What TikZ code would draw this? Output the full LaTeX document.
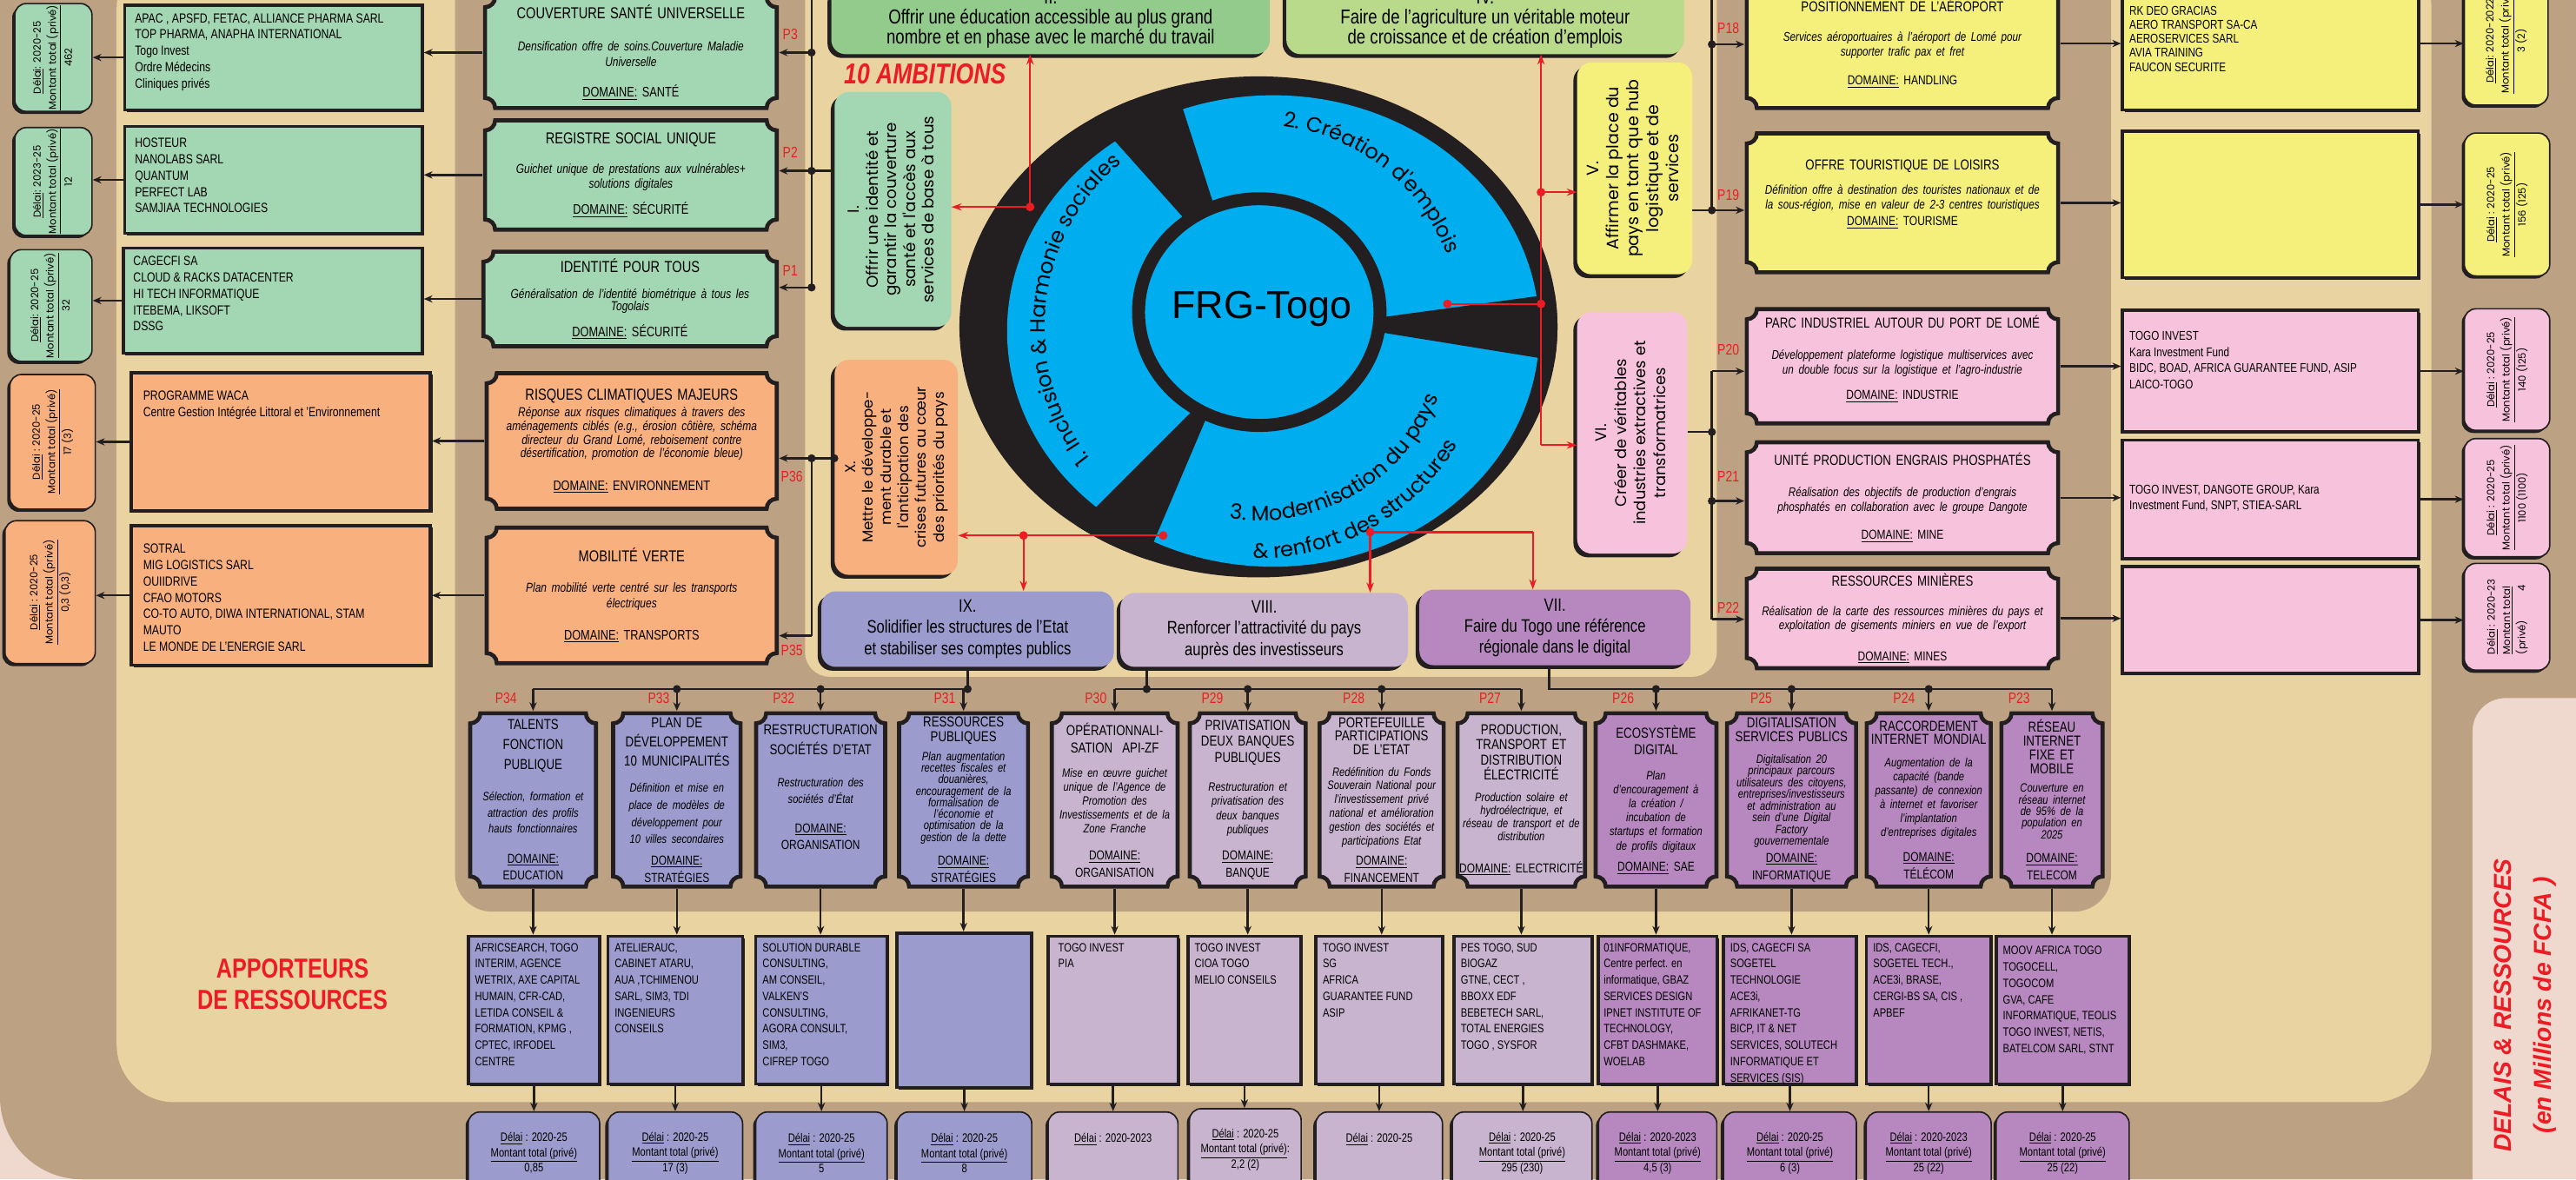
\documentclass[tikz,border=0pt]{standalone}
\usepackage{fontspec}
\usepackage{graphicx}
\setmainfont{Liberation Sans}[FakeStretch=0.8]
\newfontfamily\plainsans{Liberation Sans}
\newfontfamily\geofont{Poppins}
\usepackage{xcolor}
\usepackage{tikz}
\usetikzlibrary{
  arrows.meta,
  positioning,
  shadows,
  calc,
  decorations.text
}
\definecolor{tanbg}{HTML}{BCA283}
\definecolor{blush}{HTML}{EFD8CE}
\definecolor{sand}{HTML}{E9D3A1}
\definecolor{mint}{HTML}{A3D6B3}
\definecolor{leaf}{HTML}{92CB8B}
\definecolor{lime}{HTML}{B9DA8B}
\definecolor{peach}{HTML}{F9B07F}
\definecolor{lemon}{HTML}{F5F07C}
\definecolor{rose}{HTML}{F7C2DB}
\definecolor{periw}{HTML}{9C9BCD}
\definecolor{lilac}{HTML}{C9B4D0}
\definecolor{orchid}{HTML}{B688BF}
\definecolor{ringblue}{HTML}{00AEEF}
\definecolor{alertred}{HTML}{ED1C24}
\definecolor{inkline}{HTML}{231F20}
\tikzset{
  ticket/.style={
    path picture={
      \coordinate (tsw) at ([shift={(1.4pt,1.4pt)}]path picture bounding box.south west);
      \coordinate (tne) at ([shift={(-1.4pt,-1.4pt)}]path picture bounding box.north east);
      \coordinate (tse) at (tsw -| tne);
      \coordinate (tnw) at (tne -| tsw);
      \filldraw[fill=#1, draw=inkline, line width=2.8pt]
        ([xshift=7pt]tsw) -- ([xshift=-7pt]tse) arc[start angle=180, end angle=90, radius=7pt]
        -- ([yshift=-7pt]tne) arc[start angle=270, end angle=180, radius=7pt]
        -- ([xshift=7pt]tnw) arc[start angle=0, end angle=-90, radius=7pt]
        -- ([yshift=7pt]tsw) arc[start angle=90, end angle=0, radius=7pt] -- cycle;
    }
  },
  projbox/.style={rectangle, ticket=#1, inner sep=1.5pt, align=center},
  resbox/.style={
    rectangle, fill=#1, draw=inkline, line width=2.2pt,
    drop shadow={shadow xshift=1.4pt, shadow yshift=-1.4pt, opacity=1, fill=inkline}
  },
  restext/.style={anchor=north west, align=left, inner sep=0pt,
    font=\fontsize{9.2}{11.3}\selectfont},
  bottext/.style={restext, font=\fontsize{8.4}{11.3}\selectfont},
  delaybox/.style={
    rectangle, rounded corners=8pt, fill=#1, draw=inkline, line width=1pt,
    drop shadow={shadow xshift=-1.8pt, shadow yshift=-1.8pt, opacity=1, fill=inkline},
    align=center, inner sep=1pt
  },
  ambbox/.style={
    rectangle, rounded corners=10pt, fill=#1,
    drop shadow={shadow xshift=-2.6pt, shadow yshift=-2.6pt, opacity=1, fill=inkline},
    align=center, inner sep=2pt
  },
  arrowstyle/.style={-{Stealth[length=6pt,width=5pt]}, line width=1.5pt, color=inkline},
  busline/.style={line width=1.5pt, color=inkline},
  redline/.style={line width=1.3pt, color=alertred},
  redarrow/.style={redline, -{Stealth[length=7pt,width=5pt]}},
  tag/.style={font=\fontsize{10.5}{10.5}\selectfont, text=alertred, inner sep=0pt},
}
\newcommand{\bx}[7]{%
  \node[#2, minimum width={(#5-#3)*0.4mm}, minimum height={(#6-#4)*0.4mm}]
    (#1) at ({(#3+#5)/2},{-(#4+#6)/2}) {#7};}
\newcommand{\ttlf}{\upshape\fontsize{11}{12.5}\selectfont}
\newcommand{\descf}{\itshape\fontsize{9}{10.4}\selectfont}
\newcommand{\domf}{\upshape\fontsize{9.6}{11}\selectfont}
\newcommand{\ttlr}{\upshape\fontsize{10}{11}\selectfont}
\newcommand{\descr}{\itshape\fontsize{8.8}{10}\selectfont}
\newcommand{\domr}{\upshape\fontsize{9}{10}\selectfont}
\newcommand{\btl}[1]{\upshape\fontsize{10}{#1}\selectfont}
\newcommand{\bds}[1]{\itshape\fontsize{8.4}{#1}\selectfont}
\newcommand{\bdm}[1]{\upshape\fontsize{9}{#1}\selectfont}
\newcommand{\dom}[1]{\underline{DOMAINE:} #1}
\newcommand{\ringf}{\geofont\fontsize{14.5}{14.5}\selectfont}
\newcommand{\vdelay}[2]{\rotatebox{90}{\geofont\fontsize{7}{10.5}\selectfont
  \begin{tabular}{@{}c@{}}\underline{Délai}#1\\ \underline{Montant total (privé)}\\ #2\end{tabular}}}
\newcommand{\hdelay}[2]{\underline{Délai} : #1\\ \underline{Montant total (privé)}\\ #2}
\newcommand{\vamb}[2]{\rotatebox{90}{\geofont#1\selectfont
  \begin{tabular}{@{}c@{}}#2\end{tabular}}}

\begin{document}
\begin{tikzpicture}[x=0.4mm, y=0.4mm]
  \useasboundingbox (0,0) rectangle (1568,-718);
  % fonds
  \fill[blush] (0,0) rectangle (1568,-718);
  \fill[tanbg] (0,30) -- (1578,30) -- (1578,-425) -- (1525,-425)
    arc[start angle=90, end angle=180, radius=20] -- (1505,-718) -- (50,-718)
    arc[start angle=270, end angle=180, radius=50] -- cycle;
  \fill[sand, rounded corners=14mm] (71,30) rectangle (1480,-671);
  \fill[tanbg, rounded corners=9mm] (277,30) rectangle (1285,-555);
  \fill[sand, rounded corners=6mm] (490,30) rectangle (1045,-412);

  % roue FRG-Togo
  \coordinate (wc) at (766,-199);
  \fill[inkline] (wc) ellipse [x radius=182, y radius=152.5];
  \fill[ringblue] (775,-201.5) ellipse [x radius=162, y radius=143.5];
  \begin{scope}
    \clip (wc) ellipse [x radius=182, y radius=152.5];
    \fill[inkline] (660,-65) -- (717,-57) -- (746,-147) -- (735,-149) -- cycle;
    \fill[inkline] (820,-196) -- (960,-177) -- (962,-222) -- (820,-199) -- cycle;
    \fill[inkline] (735,-241) -- (740,-241) -- (692,-354) -- (655,-321) -- cycle;
  \end{scope}
  \filldraw[fill=ringblue, draw=inkline, line width=9pt] (766.5,-190) ellipse [x radius=73.5, y radius=69];
  \path[decorate, decoration={text along path, text align=center,
      text={|\ringf|1. Inclusion {\&} Harmonie sociales}}]
    (wc) ++(239:130) arc[start angle=239, end angle=109, radius=130];
  \path[decorate, decoration={text along path, text align=center,
      text={|\ringf|2. Création d'emplois}}]
    (wc) ++(110:123) arc[start angle=110, end angle=-6, radius=123];
  \path[decorate, decoration={text along path, text align=center,
      text={|\ringf|3. Modernisation du pays}}]
    (wc) ++(240:118) arc[start angle=240, end angle=360, radius=118];
  \path[decorate, decoration={text along path, text align=center,
      text={|\ringf|{\&} renfort des structures}}]
    (wc) ++(239:141) arc[start angle=239, end angle=359, radius=141];
  \node[font=\plainsans\fontsize{27}{27}\selectfont, inner sep=0pt] (hub) at (768,-188) {FRG-Togo};

  % ambitions
  \node[font=\bfseries\itshape\fontsize{20}{20}\selectfont, text=alertred, inner sep=0pt]
    (amb10) at (563,-45) {10 AMBITIONS};
  \bx{bII}{ambbox=leaf, font=\fontsize{14}{14}\selectfont}{506}{-10}{773}{33}
    {II.\\ Offrir une éducation accessible au plus grand\\ nombre et en phase avec le marché du travail}
  \bx{bIV}{ambbox=lime, font=\fontsize{14}{14}\selectfont}{783}{-10}{1025}{33}
    {IV.\\ Faire de l'agriculture un véritable moteur\\ de croissance et de création d'emplois}
  \bx{bI}{ambbox=mint}{508}{56}{579}{199}
    {\vamb{\fontsize{11}{13}}{I.\\ Offrir une identité et\\ garantir la couverture\\ santé et l'accès aux\\ services de base à tous}}
  \bx{bV}{ambbox=lemon}{960}{38}{1030}{167}
    {\vamb{\fontsize{11.5}{13.8}}{V.\\ Affirmer la place du\\ pays en tant que hub\\ logistique et de\\ services}}
  \bx{bVI}{ambbox=rose}{960}{190}{1027}{337}
    {\vamb{\fontsize{10.8}{13.5}}{VI.\\ Créer de véritables\\ industries extractives et\\ transformatrices}}
  \bx{bX}{ambbox=peach}{508}{219}{583}{350}
    {\vamb{\fontsize{10}{12.3}}{X.\\ Mettre le développe-\\ ment durable et\\ l'anticipation des\\ crises futures au cœur\\ des priorités du pays}}
  \bx{bIX}{ambbox=periw, font=\fontsize{12.5}{14.5}\selectfont}{500}{360}{678}{406}
    {IX.\\ Solidifier les structures de l'Etat\\ et stabiliser ses comptes publics}
  \bx{bVIII}{ambbox=lilac, font=\fontsize{12.5}{14.5}\selectfont}{682}{361}{857}{406}
    {VIII.\\ Renforcer l'attractivité du pays\\ auprès des investisseurs}
  \bx{bVII}{ambbox=orchid, font=\fontsize{12.5}{14.5}\selectfont}{864}{359}{1029}{405}
    {VII.\\ Faire du Togo une référence\\ régionale dans le digital}

  % colonne gauche
  \bx{p3}{projbox=mint, text width=68mm}{294}{-3}{474}{67}
    {\ttlf COUVERTURE SANTÉ UNIVERSELLE\\[12pt]\descf Densification offre de soins.Couverture Maladie\\ Universelle\\[9.5pt]\domf\dom{SANTÉ}}
  \bx{p2}{projbox=mint, text width=68mm}{294}{72}{474}{141}
    {\ttlf REGISTRE SOCIAL UNIQUE\\[10.4pt]\descf Guichet unique de prestations aux vulnérables+\\ solutions digitales\\[6pt]\domf\dom{SÉCURITÉ}}
  \bx{p1}{projbox=mint, text width=68mm}{293}{152}{474}{212}
    {\ttlf IDENTITÉ POUR TOUS\\[7.8pt]\descf Généralisation de l'identité biométrique à tous les\\[-2pt] Togolais\\[6pt]\domf\dom{SÉCURITÉ}}
  \bx{p36}{projbox=peach, text width=68mm}{295}{226}{474}{311}
    {\ttlf RISQUES CLIMATIQUES MAJEURS\\[1.6pt]\descf Réponse aux risques climatiques à travers des\\[-1pt] aménagements ciblés (e.g., érosion côtière, schéma\\[-1pt] directeur du Grand Lomé,  reboisement contre\\[-1pt] désertification, promotion de l'économie bleue)\\[10.6pt]\domf\dom{ENVIRONNEMENT}}
  \bx{p35}{projbox=peach, text width=68mm}{295}{320}{474}{405}
    {\ttlf MOBILITÉ VERTE\\[10.8pt]\descf Plan mobilité verte centré sur les transports\\ électriques\\[10.2pt]\domf\dom{TRANSPORTS}}

  \bx{rl3}{resbox=mint}{76}{3}{257}{67}{}
  \bx{rl2}{resbox=mint}{76}{77}{257}{142}{}
  \bx{rl1}{resbox=mint}{75}{151}{257}{215}{}
  \bx{rl36}{resbox=peach}{80}{227}{262}{311}{}
  \bx{rl35}{resbox=peach}{80}{320}{262}{405}{}
  \node[restext] (rl3t) at (82,-8) {APAC , APSFD, FETAC, ALLIANCE PHARMA SARL\\ TOP PHARMA, ANAPHA INTERNATIONAL\\ Togo Invest\\ Ordre Médecins\\ Cliniques privés};
  \node[restext] (rl2t) at (82,-84) {HOSTEUR\\ NANOLABS SARL\\ QUANTUM\\ PERFECT LAB\\ SAMJIAA TECHNOLOGIES};
  \node[restext] (rl1t) at (81,-156) {CAGECFI SA\\ CLOUD \& RACKS DATACENTER\\ HI TECH INFORMATIQUE\\ ITEBEMA, LIKSOFT\\ DSSG};
  \node[restext] (rl36t) at (87,-238) {PROGRAMME WACA\\ Centre Gestion Intégrée Littoral et 'Environnement};
  \node[restext] (rl35t) at (87,-331) {SOTRAL\\ MIG LOGISTICS SARL\\ OUIIDRIVE\\ CFAO MOTORS\\ CO-TO AUTO, DIWA INTERNATIONAL, STAM\\ MAUTO\\ LE MONDE DE L'ENERGIE SARL};

  \bx{dl3}{delaybox=mint}{9}{3}{56}{67}{\vdelay{: 2020-25}{462}}
  \bx{dl2}{delaybox=mint}{9}{79}{56}{142}{\vdelay{: 2023-25}{12}}
  \bx{dl1}{delaybox=mint}{6}{152}{56}{220}{\vdelay{: 2020-25}{32}}
  \bx{dl36}{delaybox=peach}{6}{228}{58}{310}{\vdelay{~: 2020-25}{17 (3)}}
  \bx{dl35}{delaybox=peach}{3}{317}{58}{404}{\vdelay{~: 2020-25}{0,3 (0,3)}}

  % colonne droite
  \bx{p18}{projbox=lemon, text width=73mm}{1062}{-14}{1254}{67}
    {\ttlr POSITIONNEMENT DE L'AÉROPORT\\[10.5pt]\descr Services aéroportuaires à l'aéroport de Lomé pour\\ supporter trafic pax et fret\\[8pt]\domr\dom{HANDLING}}
  \bx{p19}{projbox=lemon, text width=73mm}{1062}{80}{1254}{167}
    {\ttlr OFFRE TOURISTIQUE DE LOISIRS\\[7pt]\descr Définition offre à destination des touristes nationaux et de\\ la sous-région, mise en valeur de 2-3 centres touristiques\\[2pt]\domr\dom{TOURISME}\\[0pt]\rule{0pt}{11pt}}
  \bx{p20}{projbox=rose, text width=73mm}{1062}{187}{1254}{259}
    {\ttlr PARC INDUSTRIEL AUTOUR DU PORT DE LOMÉ\\[11.6pt]\descr Développement plateforme logistique multiservices avec\\ un double focus sur la logistique et l'agro-industrie\\[8pt]\domr\dom{INDUSTRIE}\\[0pt]\rule{0pt}{8pt}}
  \bx{p21}{projbox=rose, text width=73mm}{1062}{268}{1254}{338}
    {\ttlr UNITÉ PRODUCTION ENGRAIS PHOSPHATÉS\\[11.6pt]\descr Réalisation des objectifs de production d'engrais\\ phosphatés en collaboration avec le groupe Dangote\\[7.8pt]\domr\dom{MINE}}
  \bx{p22}{projbox=rose, text width=73mm}{1062}{345}{1254}{408}
    {\ttlr RESSOURCES MINIÈRES\\[10.5pt]\descr Réalisation de la carte des ressources minières du pays et\\ exploitation de gisements miniers en vue de l'export\\[9.3pt]\domr\dom{MINES}}

  \bx{r18}{resbox=lemon}{1292}{-14}{1472}{67}{}
  \bx{r19}{resbox=lemon}{1292}{80}{1472}{169}{}
  \bx{r20}{resbox=rose}{1292}{189}{1472}{263}{}
  \bx{r21}{resbox=rose}{1292}{268}{1472}{340}{}
  \bx{r22}{resbox=rose}{1292}{345}{1472}{410}{}
  \node[restext, font=\fontsize{8.8}{9.8}\selectfont] (r18t) at (1296,-3.5) {RK DEO GRACIAS\\ AERO TRANSPORT SA-CA\\ AEROSERVICES SARL\\ AVIA TRAINING\\ FAUCON SECURITE};
  \node[restext, font=\fontsize{8.8}{11.2}\selectfont] (r20t) at (1296,-201.5) {TOGO INVEST\\ Kara Investment Fund\\ BIDC, BOAD, AFRICA GUARANTEE FUND, ASIP\\ LAICO-TOGO};
  \node[restext, font=\fontsize{8.8}{11.2}\selectfont] (r21t) at (1296,-295) {TOGO INVEST, DANGOTE GROUP, Kara\\ Investment Fund, SNPT, STIEA-SARL};

  \bx{dr18}{delaybox=lemon}{1500}{-14}{1551}{64}{\vdelay{: 2020-2022}{3 (2)}}
  \bx{dr19}{delaybox=lemon}{1500}{81}{1552}{168}{\vdelay{~: 2020-25}{156 (125)}}
  \bx{dr20}{delaybox=rose}{1500}{188}{1552}{262}{\vdelay{~: 2020-25}{140 (125)}}
  \bx{dr21}{delaybox=rose}{1500}{267}{1552}{339}{\vdelay{~: 2020-25}{1100 (1100)}}
  \bx{dr22}{delaybox=rose}{1500}{343}{1552}{408}
    {\rotatebox{90}{\geofont\fontsize{7}{10.5}\selectfont\begin{tabular}{@{}l@{}}\underline{Délai} : 2020-23\\ \underline{Montant total}\\ (privé)\hspace{20pt}4\end{tabular}}}

  % rangée du bas : projets
  \bx{p34}{projbox=periw, text width=27.5mm}{285}{433}{364}{541}
    {\btl{13.7}TALENTS\\ FONCTION\\ PUBLIQUE\\[10.2pt]\bds{11.4}Sélection, formation et\\ attraction des profils\\ hauts fonctionnaires\\[8.5pt]\bdm{12}\underline{DOMAINE:}\\ EDUCATION}
  \bx{p33}{projbox=periw, text width=28mm}{372}{433}{452}{541}
    {\btl{13.4}PLAN DE\\ DÉVELOPPEMENT\\ 10 MUNICIPALITÉS\\[6.4pt]\bds{11.8}Définition et mise en\\ place de modèles de\\ développement pour\\ 10 villes secondaires\\[3.4pt]\bdm{11.4}\underline{DOMAINE:}\\ STRATÉGIES}
  \bx{p32}{projbox=periw, text width=28mm}{459}{433}{540}{541}
    {\btl{13.7}RESTRUCTURATION\\ SOCIÉTÉS D'ETAT\\[10.8pt]\bds{11.4}Restructuration des\\ sociétés d'État\\[9pt]\bdm{11.4}\underline{DOMAINE:}\\ ORGANISATION\\[0pt]\rule{0pt}{17pt}}
  \bx{p31}{projbox=periw, text width=28mm}{546}{433}{627}{541}
    {\btl{10.2}RESSOURCES\\ PUBLIQUES\\[5pt]\bds{8}Plan augmentation\\ recettes fiscales et\\ douanières,\\ encouragement de la\\ formalisation de\\ l'économie et\\ optimisation de la\\ gestion de la dette\\[4.7pt]\bdm{10.5}\dom{STRATÉGIES}}
  \bx{p30}{projbox=lilac, text width=27.5mm}{639}{433}{718}{541}
    {\btl{12.5}OPÉRATIONNALI-\\ SATION~~API-ZF\\[7pt]\bds{9.6}Mise en œuvre guichet\\ unique de l'Agence de\\ Promotion des\\ Investissements et de la\\ Zone Franche\\[8.6pt]\bdm{10.2}\underline{DOMAINE:}\\ ORGANISATION}
  \bx{p29}{projbox=lilac, text width=27mm}{723}{433}{796}{541}
    {\btl{11.2}PRIVATISATION\\ DEUX BANQUES\\ PUBLIQUES\\[9.9pt]\bds{9.9}Restructuration et\\ privatisation des\\ deux banques\\ publiques\\[8pt]\bdm{10.2}\underline{DOMAINE:}\\ BANQUE}
  \bx{p28}{projbox=lilac, text width=28mm}{802}{433}{880}{541}
    {\btl{9.4}PORTEFEUILLE\\ PARTICIPATIONS\\ DE L'ETAT\\[5.2pt]\bds{9.6}Redéfinition du Fonds\\ Souverain National pour\\ l'investissement privé\\ national et amélioration\\ gestion des sociétés et\\ participations Etat\\[4pt]\bdm{9.7}\underline{DOMAINE:}\\ FINANCEMENT}
  \bx{p27}{projbox=lilac, text width=30.5mm}{886}{433}{966}{541}
    {\btl{10.6}PRODUCTION,\\ TRANSPORT ET\\ DISTRIBUTION\\ ÉLECTRICITÉ\\[6pt]\bds{9}Production solaire et\\ hydroélectrique, et\\ réseau de transport et de\\ distribution\\[10pt]\bdm{10.5}\dom{ELECTRICITÉ}}
  \bx{p26}{projbox=orchid, text width=27.5mm}{970}{433}{1046}{541}
    {\btl{11.4}ECOSYSTÈME\\ DIGITAL\\[8pt]\bds{9.7}Plan\\ d'encouragement à\\ la création /\\ incubation de\\ startups et formation\\ de profils digitaux\\[3pt]\bdm{10.5}\dom{SAE}}
  \bx{p25}{projbox=orchid, text width=28mm}{1050}{433}{1131}{541}
    {\btl{9.7}DIGITALISATION\\ SERVICES PUBLICS\\[6.7pt]\bds{8.1}Digitalisation 20\\ principaux parcours\\ utilisateurs des citoyens,\\ entreprises/investisseurs\\ et administration au\\ sein d'une Digital\\ Factory\\ gouvernementale\\[1.6pt]\bdm{10.2}\underline{DOMAINE:}\\ INFORMATIQUE}
  \bx{p24}{projbox=orchid, text width=30mm}{1135}{433}{1213}{541}
    {\btl{9.1}RACCORDEMENT\\ INTERNET MONDIAL\\[5.8pt]\bds{9.7}Augmentation de la\\ capacité (bande\\ passante) de connexion\\ à internet et favoriser\\ l'implantation\\ d'entreprises digitales\\[5.6pt]\bdm{11.4}\underline{DOMAINE:}\\ TÉLÉCOM}
  \bx{p23}{projbox=orchid, text width=23.5mm}{1217}{433}{1281}{541}
    {\btl{9.5}RÉSEAU\\ INTERNET\\ FIXE ET\\ MOBILE\\[5.2pt]\bds{8}Couverture en\\ réseau internet\\ de 95\% de la\\ population en\\ 2025\\[7pt]\bdm{9.7}\underline{DOMAINE:}\\ TELECOM}

  % rangée du bas : apporteurs
  \bx{r34}{resbox=periw}{285}{570}{365}{660}{}
  \bx{r33}{resbox=periw}{370}{570}{452}{660}{}
  \bx{r32}{resbox=periw}{460}{570}{540}{660}{}
  \bx{r31}{resbox=periw}{546}{568}{628}{662}{}
  \bx{r30}{resbox=lilac}{638}{570}{717}{660}{}
  \bx{r29}{resbox=lilac}{723}{570}{792}{660}{}
  \bx{r28}{resbox=lilac}{801}{570}{878}{660}{}
  \bx{r27}{resbox=lilac}{885}{570}{969}{660}{}
  \bx{r26}{resbox=orchid}{973}{570}{1045}{660}{}
  \bx{r25}{resbox=orchid}{1049}{570}{1130}{660}{}
  \bx{r24}{resbox=orchid}{1136}{570}{1212}{660}{}
  \bx{r23}{resbox=orchid}{1215}{570}{1296}{660}{}
  \node[bottext] (r34t) at (289,-574) {AFRICSEARCH, TOGO\\ INTERIM, AGENCE\\ WETRIX, AXE CAPITAL\\ HUMAIN, CFR-CAD,\\ LETIDA CONSEIL \&\\ FORMATION, KPMG ,\\ CPTEC, IRFODEL\\ CENTRE};
  \node[bottext] (r33t) at (374,-574) {ATELIERAUC,\\ CABINET ATARU,\\ AUA ,TCHIMENOU\\ SARL, SIM3, TDI\\ INGENIEURS\\ CONSEILS};
  \node[bottext] (r32t) at (464,-574) {SOLUTION DURABLE\\ CONSULTING,\\ AM CONSEIL,\\ VALKEN'S\\ CONSULTING,\\ AGORA CONSULT,\\ SIM3,\\ CIFREP TOGO};
  \node[bottext] (r30t) at (644,-574) {TOGO INVEST\\ PIA};
  \node[bottext] (r29t) at (727,-574) {TOGO INVEST\\ CIOA TOGO\\ MELIO CONSEILS};
  \node[bottext] (r28t) at (805,-574) {TOGO INVEST\\ SG\\ AFRICA\\ GUARANTEE FUND\\ ASIP};
  \node[bottext] (r27t) at (889,-574) {PES TOGO, SUD\\ BIOGAZ\\ GTNE, CECT ,\\ BBOXX EDF\\ BEBETECH SARL,\\ TOTAL ENERGIES\\ TOGO , SYSFOR};
  \node[bottext] (r26t) at (976,-574) {01INFORMATIQUE,\\ Centre perfect. en\\ informatique, GBAZ\\ SERVICES DESIGN\\ IPNET INSTITUTE OF\\ TECHNOLOGY,\\ CFBT DASHMAKE,\\ WOELAB};
  \node[bottext] (r25t) at (1053,-574) {IDS, CAGECFI SA\\ SOGETEL\\ TECHNOLOGIE\\ ACE3i,\\ AFRIKANET-TG\\ BICP, IT \& NET\\ SERVICES, SOLUTECH\\ INFORMATIQUE ET\\ SERVICES (SIS)};
  \node[bottext] (r24t) at (1140,-574) {IDS, CAGECFI,\\ SOGETEL TECH.,\\ ACE3i, BRASE,\\ CERGI-BS SA, CIS ,\\ APBEF};
  \node[bottext] (r23t) at (1219,-576) {MOOV AFRICA TOGO\\ TOGOCELL,\\ TOGOCOM\\ GVA, CAFE\\ INFORMATIQUE, TEOLIS\\ TOGO INVEST, NETIS,\\ BATELCOM SARL, STNT};

  % rangée du bas : délais
  \bx{d34}{delaybox=periw, font=\fontsize{8.4}{10.6}\selectfont}{285}{677}{365}{727}{\hdelay{2020-25}{0,85}}
  \bx{d33}{delaybox=periw, font=\fontsize{8.4}{10.6}\selectfont}{370}{677}{452}{727}{\hdelay{2020-25}{17 (3)}}
  \bx{d32}{delaybox=periw, font=\fontsize{8.4}{10.6}\selectfont}{460}{677}{540}{727}{\hdelay{2020-25}{5}}
  \bx{d31}{delaybox=periw, font=\fontsize{8.4}{10.6}\selectfont}{546}{677}{628}{727}{\hdelay{2020-25}{8}}
  \bx{d30}{delaybox=lilac, font=\fontsize{8.4}{10.6}\selectfont}{638}{677}{717}{727}{\underline{Délai} : 2020-2023\\ ~\\ ~}
  \bx{d29}{delaybox=lilac, font=\fontsize{8.4}{10.6}\selectfont}{724}{675}{792}{725}{\underline{Délai} : 2020-25\\ \underline{Montant total (privé)}:\\ 2,2 (2)}
  \bx{d28}{delaybox=lilac, font=\fontsize{8.4}{10.6}\selectfont}{801}{677}{878}{727}{\underline{Délai} : 2020-25\\ ~\\ ~}
  \bx{d27}{delaybox=lilac, font=\fontsize{8.4}{10.6}\selectfont}{884}{677}{969}{727}{\hdelay{2020-25}{295 (230)}}
  \bx{d26}{delaybox=orchid, font=\fontsize{8.4}{10.6}\selectfont}{973}{677}{1045}{727}{\hdelay{2020-2023}{4,5 (3)}}
  \bx{d25}{delaybox=orchid, font=\fontsize{8.4}{10.6}\selectfont}{1049}{677}{1130}{727}{\hdelay{2020-25}{6 (3)}}
  \bx{d24}{delaybox=orchid, font=\fontsize{8.4}{10.6}\selectfont}{1136}{677}{1212}{727}{\hdelay{2020-2023}{25 (22)}}
  \bx{d23}{delaybox=orchid, font=\fontsize{8.4}{10.6}\selectfont}{1215}{677}{1296}{727}{\hdelay{2020-25}{25 (22)}}

  % titres rouges
  \node[align=center, text=alertred, font=\bfseries\fontsize{19}{21.6}\selectfont] (apport) at (178,-599) {APPORTEURS\\ DE RESSOURCES};
  \node[rotate=90, align=center, text=alertred, font=\plainsans\bfseries\itshape\fontsize{17}{28}\selectfont]
    (sidettl) at (1537,-612) {DELAIS \& RESSOURCES\\ (en Millions de FCFA )};

  % liaisons rouges depuis la roue
  \coordinate (rA) at (627,-126);
  \coordinate (rB) at (881,-185);
  \coordinate (rBj) at (938,-185);
  \coordinate (rV) at (938,-117);
  \coordinate (rVI) at (938,-271);
  \coordinate (rC) at (708,-326);
  \coordinate (rD) at (623,-326);
  \coordinate (rE) at (834,-324);
  \coordinate (rF) at (933,-324);
  \draw[redarrow] (rA) -- (rA -| bI.east);
  \draw[redarrow] (rA) -- (rA |- bII.south);
  \draw[redline] (rB) -- (rBj);
  \draw[redarrow] (rVI) -- (rBj |- bIV.south);
  \draw[redarrow] (rV) -- (rV -| bV.west);
  \draw[redarrow] (rVI) -- (rVI -| bVI.west);
  \draw[redarrow] (rC) -- (rC -| bX.east);
  \draw[redarrow] (rD) -- (rD |- bIX.north);
  \draw[redarrow] (rE) -- (rE |- bVIII.north);
  \draw[redline] (rE) -- (rF);
  \draw[redarrow] (rF) -- (rF |- bVII.north);
  \foreach \c in {rA,rB,rBj,rV,rC,rD,rE}
    \fill[alertred] (\c) circle (3pt);

  % liaisons noires gauche
  \coordinate (busItop) at (494,5);
  \coordinate (tI3) at (494,-32);
  \coordinate (tI2) at (494,-104);
  \coordinate (tI1) at (494,-175);
  \coordinate (tX36) at (494,-279);
  \coordinate (tX35) at (494,-387);
  \coordinate (tXb) at (tX36 -| bX.west);
  \draw[busline] (busItop) -- (tI1);
  \draw[busline] (tI2) -- (tI2 -| bI.west);
  \draw[arrowstyle] (tI3) -- (tI3 -| p3.east);
  \draw[arrowstyle] (tI2) -- (tI2 -| p2.east);
  \draw[arrowstyle] (tI1) -- (tI1 -| p1.east);
  \draw[busline] (tXb) -- (tX36) -- (tX35);
  \draw[arrowstyle] (tX36) -- (tX36 -| p36.east);
  \draw[arrowstyle] (tX35) -- (tX35 -| p35.east);
  \draw[arrowstyle] (p3.west) -- (p3.west -| rl3.east);
  \draw[arrowstyle] (p2.west) -- (p2.west -| rl2.east);
  \draw[arrowstyle] (p1.west) -- (p1.west -| rl1.east);
  \draw[arrowstyle] (p36.west) -- (p36.west -| rl36.east);
  \draw[arrowstyle] (p35.west) -- (p35.west -| rl35.east);
  \draw[arrowstyle] (rl3.west) -- (rl3.west -| dl3.east);
  \draw[arrowstyle] (rl2.west) -- (rl2.west -| dl2.east);
  \draw[arrowstyle] (rl1.west) -- (rl1.west -| dl1.east);
  \draw[arrowstyle] (rl36.west) -- (rl36.west -| dl36.east);
  \draw[arrowstyle] (rl35.west) -- (rl35.west -| dl35.east);

  % liaisons noires droite
  \coordinate (busVtop) at (1042,5);
  \coordinate (tV18) at (1042,-27);
  \coordinate (tV19) at (1042,-128);
  \coordinate (tVI20) at (1042,-226);
  \coordinate (tVIc) at (1042,-263);
  \coordinate (tVI21) at (1042,-305);
  \coordinate (tVI22) at (1042,-377);
  \draw[busline] (busVtop) -- (tV19);
  \draw[busline] (tV19 -| bV.east) -- (tV19);
  \draw[busline] (tVI20) -- (tVI22);
  \draw[busline] (tVIc -| bVI.east) -- (tVIc);
  \draw[arrowstyle] (tV18) -- (tV18 -| p18.west);
  \draw[arrowstyle] (tV19) -- (tV19 -| p19.west);
  \draw[arrowstyle] (tVI20) -- (tVI20 -| p20.west);
  \draw[arrowstyle] (tVI21) -- (tVI21 -| p21.west);
  \draw[arrowstyle] (tVI22) -- (tVI22 -| p22.west);
  \foreach \n in {18,...,22} {
    \draw[arrowstyle] (p\n.east) -- (p\n.east -| r\n.west);
    \draw[arrowstyle] (r\n.east) -- (r\n.east -| dr\n.west);
  }

  % liaisons noires bas
  \coordinate (busL) at (0,-419.5);
  \coordinate (tIX) at (bIX.south |- busL);
  \coordinate (tVIII) at (698,-419.5);
  \coordinate (tVII) at (943,-419.5);
  \draw[busline] (p34.north |- busL) -- (tIX);
  \draw[busline] (bIX.south) -- (tIX);
  \draw[busline] (p30.north |- busL) -- (p27.north |- busL);
  \draw[busline] (bVIII.south -| tVIII) -- (tVIII);
  \draw[busline] (bVII.south -| tVII) -- (tVII) -- (p23.north |- busL);
  \foreach \n in {34,33,...,23} {
    \draw[arrowstyle] (p\n.north |- busL) -- (p\n.north);
    \draw[arrowstyle] (p\n.south) -- (p\n.south |- r\n.north);
    \draw[arrowstyle] (r\n.south) -- (r\n.south |- d\n.north);
  }
  \foreach \n in {33,32,29,28,26,25,24}
    \fill[inkline] (p\n.north |- busL) circle (2.8pt);
  \foreach \c in {tI3,tI2,tI1,tX36,tXb,tV18,tV19,tVIc,tVI21,tIX,tVIII}
    \fill[inkline] (\c) circle (2.8pt);

  % numéros de projets
  \foreach \t/\x/\y in {P3/481/21, P2/481/93, P1/481/165, P36/482/290, P35/482/396,
      P18/1052/17, P19/1052/119, P20/1052/213, P21/1052/290, P22/1052/370,
      P34/308/425, P33/401/425, P32/477/425, P31/575/425, P30/667/425, P29/738/425,
      P28/824/425, P27/907/425, P26/988/425, P25/1072/425, P24/1159/425, P23/1229/425}
    \node[tag] (tag\t) at (\x,-\y) {\t};
\end{tikzpicture}
\end{document}
